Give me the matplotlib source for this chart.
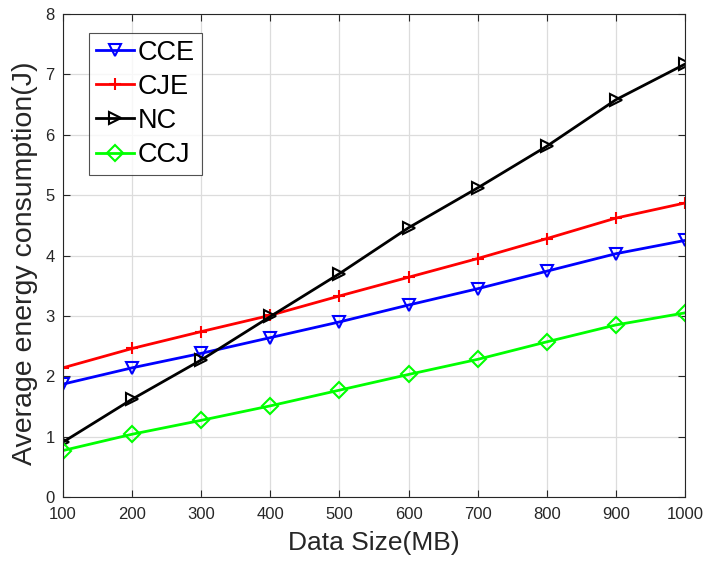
import matplotlib
matplotlib.use('Agg')
import matplotlib.pyplot as plt

plt.rcParams['font.family'] = ['Liberation Sans', 'DejaVu Sans']

data_size = [100, 200, 300, 400, 500, 600, 700, 800, 900, 1000]
cce = [1.87, 2.14, 2.38, 2.64, 2.90, 3.18, 3.45, 3.74, 4.03, 4.25]
cje = [2.14, 2.46, 2.74, 3.01, 3.33, 3.64, 3.95, 4.28, 4.62, 4.87]
nc = [0.91, 1.62, 2.27, 2.99, 3.70, 4.46, 5.12, 5.81, 6.58, 7.17]
ccj = [0.77, 1.04, 1.27, 1.51, 1.77, 2.03, 2.28, 2.57, 2.85, 3.05]

fig = plt.figure(figsize=(7.05, 5.63), dpi=100)
ax = fig.add_axes([0.0894, 0.1172, 0.8822, 0.8579])

ax.plot(data_size, cce, color='blue', marker='v', ms=9, mfc='none', mew=1.5, lw=2, label='CCE')
ax.plot(data_size, cje, color='red', marker='+', ms=9, mew=1.5, lw=2, label='CJE')
ax.plot(data_size, nc, color='black', marker='>', ms=9, mfc='none', mew=1.5, lw=2, label='NC')
ax.plot(data_size, ccj, color='#00ff00', marker='D', ms=8, mfc='none', mew=1.5, lw=2, label='CCJ')

ax.set_xlim(100, 1000)
ax.set_ylim(0, 8)
ax.set_xticks(data_size)
ax.set_yticks(range(0, 9))
ax.grid(True, color='#dcdcdc', lw=0.9)
ax.set_axisbelow(True)
ax.tick_params(direction='in', top=True, right=True, labelsize=12, colors='#262626', length=5)
ax.tick_params(axis='x', pad=7)
ax.tick_params(axis='y', pad=6)
for s in ax.spines.values():
    s.set_color('#262626')
    s.set_linewidth(0.8)

ax.set_xlabel('Data Size(MB)', fontsize=19, color='#262626', labelpad=7)
ax.set_ylabel('Average energy consumption(J)', fontsize=20.5, color='#262626')
ax.yaxis.set_label_coords(-0.04, 0.485)

leg = ax.legend(loc='upper left', bbox_to_anchor=(0.042, 0.961), fontsize=19.5, frameon=True,
                fancybox=False, edgecolor='#262626', handlelength=1.4, handletextpad=0.15,
                borderpad=0.25, labelspacing=0.3, borderaxespad=0)
leg.get_frame().set_linewidth(0.8)

fig.savefig('out.png', dpi=100)
